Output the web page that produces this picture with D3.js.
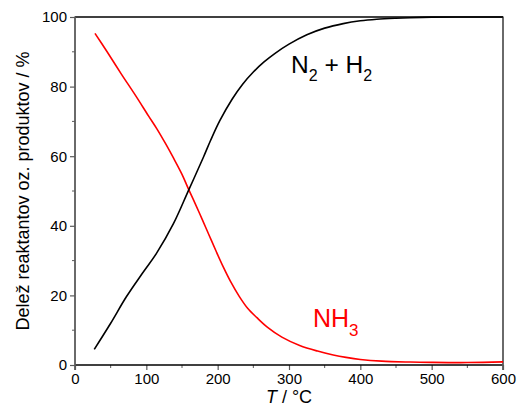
<!DOCTYPE html>
<html>
<head>
<meta charset="utf-8">
<script src="https://cdn.jsdelivr.net/npm/d3@7"></script>
<style>
  html, body { margin: 0; padding: 0; background: #fff; }
  svg { display: block; font-family: "Liberation Sans", Arial, sans-serif; }
</style>
</head>
<body>
<svg id="chart" width="520" height="412"></svg>
<script>
// Data
const tempNH3 = [28, 45, 65, 85, 103, 115, 127, 138, 150, 159, 168, 178, 188, 198, 208, 218, 230, 242, 255, 270, 290, 315, 340, 362, 380, 400, 430, 470, 500, 550, 600];
const valNH3  = [95.3, 90, 83.6, 77.4, 71.6, 67.8, 63.6, 59.5, 54.8, 50.6, 46.6, 42.0, 37.3, 32.6, 28.1, 24.0, 19.8, 16.3, 13.6, 10.8, 8.0, 5.6, 4.0, 2.9, 2.2, 1.6, 1.1, 0.85, 0.75, 0.7, 0.9];
const tempN2H2 = [27, 50, 72, 95, 114, 138, 159, 180, 190, 203, 220, 235, 250, 265, 280, 300, 325, 350, 376, 400, 423, 450, 470, 500, 550, 600];
const valN2H2  = [4.5, 12, 19.6, 26.5, 32, 40.6, 50.1, 59.7, 64.5, 70.2, 76.3, 80.7, 84.2, 87.1, 89.5, 92.2, 94.9, 96.8, 98.1, 98.9, 99.35, 99.65, 99.8, 99.95, 100, 100];
const xTicks = [0, 100, 200, 300, 400, 500, 600];
const yTicks = [0, 20, 40, 60, 80, 100];
const xMinor = [50, 150, 250, 350, 450, 550];
const yMinor = [10, 30, 50, 70, 90];

const FONT = "'Liberation Sans', Arial, sans-serif";
const svg = d3.select("#chart");
const L = 75, R = 503, T = 17, B = 365;
const x = d3.scaleLinear().domain([0, 600]).range([L, R]);
const y = d3.scaleLinear().domain([0, 100]).range([B, T]);
const gray = "#5a5a5a";

// minor ticks
svg.append("g").selectAll("line").data(xMinor).join("line")
  .attr("x1", d => x(d)).attr("x2", d => x(d))
  .attr("y1", B).attr("y2", B + 3)
  .attr("stroke", gray).attr("stroke-width", 1);
svg.append("g").selectAll("line").data(yMinor).join("line")
  .attr("y1", d => y(d)).attr("y2", d => y(d))
  .attr("x1", L).attr("x2", L - 3)
  .attr("stroke", gray).attr("stroke-width", 1);

// x axis
const xAxis = svg.append("g").attr("transform", `translate(0,${B})`)
  .call(d3.axisBottom(x).tickValues(xTicks).tickSize(5).tickPadding(3).tickFormat(d3.format("d")));
xAxis.select(".domain").remove();
xAxis.selectAll(".tick line").attr("stroke", gray).attr("stroke-width", 1.2);
xAxis.selectAll(".tick text").attr("font-size", 15).attr("fill", "#000").attr("font-family", FONT);

// y axis
const yAxis = svg.append("g").attr("transform", `translate(${L},0)`)
  .call(d3.axisLeft(y).tickValues(yTicks).tickSize(5).tickPadding(3).tickFormat(d3.format("d")));
yAxis.select(".domain").remove();
yAxis.selectAll(".tick line").attr("stroke", gray).attr("stroke-width", 1.2);
yAxis.selectAll(".tick text").attr("font-size", 15).attr("fill", "#000").attr("font-family", FONT);

// frame
svg.append("line").attr("x1", L).attr("x2", R).attr("y1", B).attr("y2", B).attr("stroke", "#000").attr("stroke-width", 1.3);
svg.append("line").attr("x1", L).attr("x2", R).attr("y1", T).attr("y2", T).attr("stroke", "#000").attr("stroke-width", 1.3);
svg.append("line").attr("x1", L).attr("x2", L).attr("y1", T - 0.6).attr("y2", B + 5).attr("stroke", gray).attr("stroke-width", 1.8);
svg.append("line").attr("x1", R).attr("x2", R).attr("y1", T - 0.6).attr("y2", B + 5).attr("stroke", gray).attr("stroke-width", 1.8);

// curves
const line = d3.line().x(d => x(d[0])).y(d => y(d[1])).curve(d3.curveCatmullRom.alpha(0.5));
svg.append("path").datum(tempNH3.map((t, i) => [t, valNH3[i]]))
  .attr("d", line).attr("fill", "none").attr("stroke", "#ff0000").attr("stroke-width", 1.6);
svg.append("path").datum(tempN2H2.map((t, i) => [t, valN2H2[i]]))
  .attr("d", line).attr("fill", "none").attr("stroke", "#000").attr("stroke-width", 1.6);

// labels
const lab1 = svg.append("text").attr("x", 291).attr("y", 73).attr("font-size", 24.5).attr("fill", "#000").attr("font-family", FONT);
lab1.append("tspan").text("N");
lab1.append("tspan").attr("font-size", 16).attr("dy", 8).text("2");
lab1.append("tspan").attr("dy", -8).text(" + H");
lab1.append("tspan").attr("font-size", 16).attr("dy", 8).text("2");

const lab2 = svg.append("text").attr("x", 313).attr("y", 327).attr("font-size", 25).attr("fill", "#ff0000").attr("font-family", FONT);
lab2.append("tspan").text("NH");
lab2.append("tspan").attr("font-size", 17).attr("dy", 9).text("3");

// axis titles
const xt = svg.append("text").attr("x", (L + R) / 2).attr("y", 403).attr("text-anchor", "middle").attr("font-size", 18).attr("fill", "#000").attr("font-family", FONT);
xt.append("tspan").attr("font-style", "italic").text("T");
xt.append("tspan").text(" / °C");

svg.append("text").attr("transform", `translate(29,${(T + B) / 2}) rotate(-90)`)
  .attr("text-anchor", "middle").attr("font-size", 18).attr("fill", "#000").attr("font-family", FONT)
  .text("Delež reaktantov oz. produktov / %");
</script>
</body>
</html>
